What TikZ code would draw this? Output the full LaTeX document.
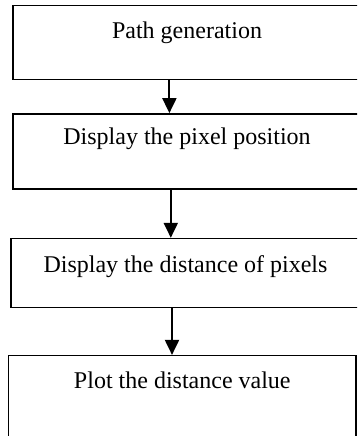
\documentclass[tikz,border=0pt]{standalone}
\usepackage{fontspec}
\setmainfont{Liberation Serif}
\usetikzlibrary{arrows.meta,positioning}

\begin{document}
\begin{tikzpicture}[
  x=1pt, y=1pt,
  box/.style={draw, line width=1.4pt, inner sep=0pt, align=center,
              font=\fontsize{24}{28}\selectfont},
  arr/.style={-{Triangle[length=15pt, width=14pt]}, line width=2pt}
]
\clip (0,0) rectangle (357,-436);
\node[box, minimum width=348pt, text height=32.5pt, text depth=41.5pt,
  anchor=north] (gen) at (187,-5) {Path generation};
\node[box, minimum width=348pt, text height=31pt, text depth=44pt,
  below=32.7pt of gen] (pos) {Display the pixel position};
\node[box, minimum width=349pt, text height=34.3pt, text depth=34.7pt,
  below=48.3pt of pos, xshift=-1.5pt] (dist) {Display the distance of pixels};
\node[box, minimum width=347.3pt, text height=33.3pt, text depth=62pt,
  below=46.7pt of dist, xshift=-3.2pt] (plot) {Plot the distance value};
\draw[arr] ([xshift=-17.6pt]gen.south) -- ([xshift=-17.6pt]gen.south |- pos.north);
\draw[arr] ([xshift=-16.2pt]pos.south) -- ([xshift=-16.2pt]pos.south |- dist.north);
\draw[arr] ([xshift=-13.5pt]dist.south) -- ([xshift=-13.5pt]dist.south |- plot.north);
\end{tikzpicture}
\end{document}
